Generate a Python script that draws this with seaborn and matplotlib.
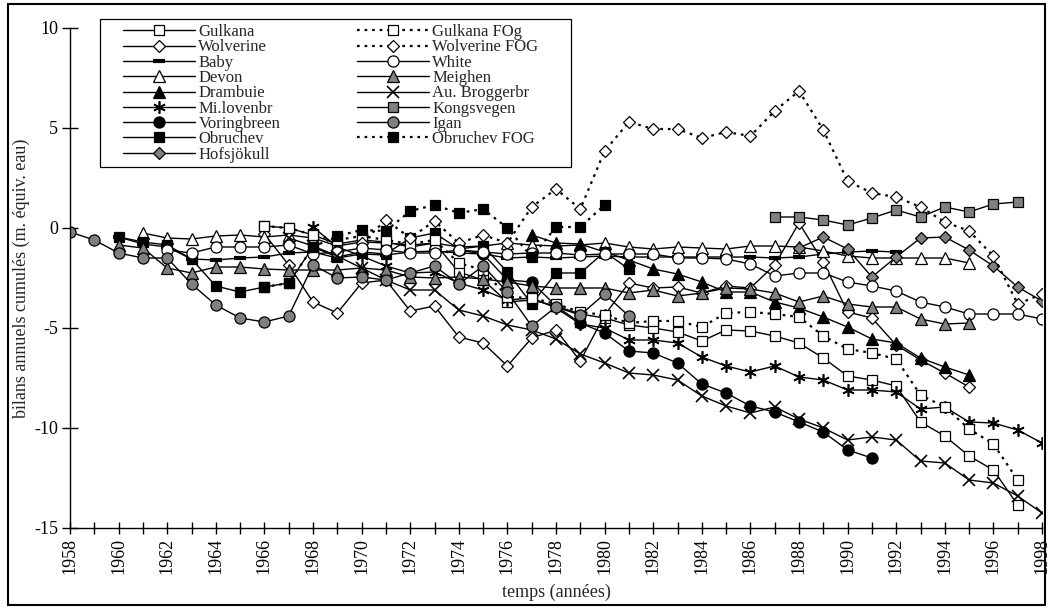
import matplotlib
matplotlib.use("Agg")
import matplotlib.pyplot as plt
import seaborn as sns
import pandas as pd
from matplotlib.patches import Rectangle

# ---------------- data (cumulative annual balances, m w.e.) ----------------
gulkana_years = list(range(1966, 1998))
gulkana = [0.1, 0.0, -0.35, -0.8, -0.6, -0.7, -0.95, -0.75, -2.2, -2.6, -3.7, -3.6, -3.9, -4.3,
           -4.5, -4.85, -5.0, -5.2, -5.65, -5.1, -5.15, -5.4, -5.75, -6.5, -7.4, -7.6, -7.9,
           -9.7, -10.4, -11.4, -12.1, -13.85]

gulkana_fog_years = list(range(1966, 1998))
gulkana_fog = [0.1, 0.0, -0.35, -0.6, -0.4, -0.6, -0.8, -0.6, -1.75, -2.1, -3.45, -3.5, -3.8, -4.2,
               -4.35, -4.75, -4.65, -4.65, -4.95, -4.25, -4.2, -4.3, -4.45, -5.4, -6.05, -6.25,
               -6.55, -8.35, -8.95, -10.05, -10.8, -12.6]

wolverine_years = list(range(1966, 1996))
wolverine = [-0.3, -1.85, -3.7, -4.25, -2.75, -2.6, -4.15, -3.9, -5.45, -5.75, -6.9, -5.5, -5.1,
             -6.65, -4.35, -2.75, -3.0, -2.95, -3.25, -2.9, -3.0, -1.85, 0.25, -1.7, -4.2, -4.5,
             -5.85, -6.6, -7.25, -7.95]

wolverine_fog_years = list(range(1970, 1999))
wolverine_fog = [-0.75, 0.4, -0.5, 0.35, -0.75, -0.35, -0.75, 1.05, 1.95, 0.95, 3.85, 5.3, 4.95,
                 4.95, 4.5, 4.8, 4.6, 5.85, 6.85, 4.9, 2.35, 1.75, 1.55, 1.05, 0.3, -0.15, -1.4,
                 -3.8, -3.3]

baby_years = list(range(1960, 1993))
baby = [-0.45, -0.8, -0.95, -1.55, -1.6, -1.5, -1.45, -1.25, -1.2, -1.5, -1.3, -1.35, -1.2, -1.15,
        -1.25, -1.3, -1.5, -1.45, -1.5, -1.45, -1.4, -1.45, -1.45, -1.45, -1.45, -1.45, -1.45,
        -1.5, -1.45, -1.3, -1.2, -1.15, -1.2]

white_years = list(range(1962, 1999))
white = [-1.1, -1.25, -0.95, -0.95, -0.95, -0.85, -1.3, -1.2, -1.0, -1.1, -1.25, -1.25, -1.1, -1.2,
         -1.3, -1.25, -1.25, -1.35, -1.3, -1.3, -1.3, -1.5, -1.5, -1.55, -1.8, -2.4, -2.25, -2.25,
         -2.7, -2.9, -3.15, -3.7, -3.95, -4.3, -4.3, -4.3, -4.55]

devon_years = list(range(1961, 1996))
devon = [-0.25, -0.5, -0.55, -0.4, -0.35, -0.45, -0.35, -0.5, -0.9, -0.7, -0.75, -0.85, -0.75,
         -0.95, -0.9, -0.75, -0.85, -0.9, -0.85, -0.75, -0.95, -1.05, -0.95, -1.0, -1.05, -0.9,
         -0.9, -0.95, -1.15, -1.4, -1.5, -1.5, -1.5, -1.5, -1.75]

meighen_years = list(range(1960, 1996))
meighen = [-0.85, -1.0, -2.0, -2.25, -1.95, -1.95, -2.05, -2.1, -2.1, -2.1, -2.0, -2.1, -2.45, -2.5,
           -2.45, -2.55, -2.7, -2.9, -3.0, -3.0, -3.0, -3.25, -3.1, -3.4, -3.25, -3.0, -3.05,
           -3.25, -3.7, -3.4, -3.8, -3.95, -3.95, -4.55, -4.8, -4.75]

drambuie_years = list(range(1977, 1996))
drambuie = [-0.35, -0.75, -0.8, -1.2, -1.6, -2.05, -2.3, -2.7, -3.2, -3.2, -3.7, -4.0, -4.45, -4.95,
            -5.55, -5.75, -6.5, -6.95, -7.35]

broggerbr_years = list(range(1967, 1999))
broggerbr = [-0.5, -0.9, -1.4, -2.0, -2.6, -3.1, -3.1, -4.1, -4.4, -4.85, -5.1, -5.55, -6.3, -6.75,
             -7.25, -7.35, -7.6, -8.4, -8.9, -9.25, -8.95, -9.55, -10.0, -10.6, -10.45, -10.6,
             -11.65, -11.75, -12.6, -12.75, -13.4, -14.25]

lovenbr_years = list(range(1968, 1999))
lovenbr = [0.05, -0.95, -1.4, -1.9, -2.25, -2.2, -2.75, -3.1, -3.6, -3.5, -4.0, -4.8, -5.0, -5.6,
           -5.6, -5.75, -6.45, -6.9, -7.2, -6.9, -7.45, -7.6, -8.1, -8.1, -8.2, -9.05, -8.95, -9.7,
           -9.75, -10.1, -10.75]

kongsvegen_years = list(range(1987, 1998))
kongsvegen = [0.55, 0.55, 0.4, 0.15, 0.5, 0.9, 0.55, 1.05, 0.8, 1.2, 1.3]

voringbreen_years = list(range(1974, 1992))
voringbreen = [-1.1, -1.3, -2.6, -2.7, -3.9, -4.75, -5.25, -6.15, -6.25, -6.75, -7.8, -8.25, -8.9,
               -9.2, -9.7, -10.2, -11.1, -11.5]

igan_years = list(range(1958, 1982))
igan = [-0.2, -0.6, -1.25, -1.5, -1.5, -2.8, -3.85, -4.5, -4.7, -4.4, -1.85, -2.5, -2.45, -2.6,
        -2.25, -1.9, -2.8, -1.9, -3.2, -4.9, -3.95, -4.35, -3.3, -4.4]

obruchev_years = list(range(1960, 1982))
obruchev = [-0.45, -0.7, -0.85, -1.55, -2.9, -3.2, -2.95, -2.75, -0.95, -1.45, -1.2, -1.3, -0.5,
            -0.25, -1.05, -0.9, -2.2, -3.8, -2.25, -2.25, -1.2, -2.05]

obruchev_fog_years = list(range(1966, 1981))
obruchev_fog = [-2.95, -2.75, -0.95, -0.4, -0.1, -0.15, 0.85, 1.15, 0.75, 0.95, 0.0, -1.45, 0.05,
                0.05, 1.15]

hofsjokull_years = list(range(1988, 1999))
hofsjokull = [-1.0, -0.45, -1.05, -2.45, -1.45, -0.5, -0.45, -1.1, -1.9, -2.95, -3.65]

year_ticks = list(range(1958, 1999))
y_ticks = [10, 5, 0, -5, -10, -15]

# ---------------- style ----------------
sns.set_style("ticks")
plt.rcParams["font.family"] = ["Liberation Serif", "DejaVu Serif"]
plt.rcParams["axes.unicode_minus"] = False
plt.rcParams["axes.linewidth"] = 1.0

GREY = "#808080"
DOT = (0, (1.2, 2.2))
ASTER = (6, 2, 0)

# label, years, values, marker, facecolor, linestyle, markersize
series = [
    ("Gulkana", gulkana_years, gulkana, "s", "white", "-", 7.5),
    ("Wolverine", wolverine_years, wolverine, "D", "white", "-", 6.5),
    ("Baby", baby_years, baby, "_", "black", "-", 8),
    ("Devon", devon_years, devon, "^", "white", "-", 8.5),
    ("Drambuie", drambuie_years, drambuie, "^", "black", "-", 8.5),
    ("Mi.lovenbr", lovenbr_years, lovenbr, ASTER, "black", "-", 9),
    ("Voringbreen", voringbreen_years, voringbreen, "o", "black", "-", 8),
    ("Obruchev", obruchev_years, obruchev, "s", "black", "-", 7.5),
    ("Hofsjökull", hofsjokull_years, hofsjokull, "D", GREY, "-", 6.5),
    ("Gulkana FOg", gulkana_fog_years, gulkana_fog, "s", "white", DOT, 7.5),
    ("Wolverine FOG", wolverine_fog_years, wolverine_fog, "D", "white", DOT, 6.5),
    ("White", white_years, white, "o", "white", "-", 8),
    ("Meighen", meighen_years, meighen, "^", GREY, "-", 8.5),
    ("Au. Broggerbr", broggerbr_years, broggerbr, "x", "black", "-", 8.5),
    ("Kongsvegen", kongsvegen_years, kongsvegen, "s", GREY, "-", 7.5),
    ("Igan", igan_years, igan, "o", GREY, "-", 8),
    ("Obruchev FOG", obruchev_fog_years, obruchev_fog, "s", "black", DOT, 7.5),
]

fig = plt.figure(figsize=(10.49, 6.08), dpi=100)
ax = fig.add_axes([70 / 1049, 80 / 608, 972 / 1049, 500 / 608])

for label, yrs, vals, mk, fc, ls, ms in series:
    df = pd.DataFrame({"year": yrs, "value": vals})
    lw = 1.6 if ls is DOT else 1.0
    if mk == "_":
        mew = 3.0
    elif mk in ("x", ASTER):
        mew = 1.2
    else:
        mew = 0.9
    sns.lineplot(data=df, x="year", y="value", ax=ax, estimator=None, sort=False,
                 color="black", linewidth=lw, linestyle=ls, marker=mk,
                 markersize=ms, markerfacecolor=fc, markeredgecolor="black",
                 markeredgewidth=mew, label=label)

ax.set_xlim(1958, 1998)
ax.set_ylim(-15, 10)
ax.set_xticks(year_ticks)
ax.set_xticklabels([str(y) if y % 2 == 0 else "" for y in year_ticks], rotation=90)
ax.set_yticks(y_ticks)
ax.set_yticklabels([str(v) for v in y_ticks])
ax.tick_params(axis="both", direction="inout", width=1.0, colors="black", labelsize=13)
ax.tick_params(axis="y", length=11, pad=3)
ax.tick_params(axis="x", length=8, pad=3)
sns.despine(ax=ax, top=True, right=True)
ax.spines["left"].set_color("black")
ax.spines["bottom"].set_color("black")

ax.set_xlabel("temps (années)", fontsize=13)
ax.set_ylabel("bilans annuels cumulés (m. équiv. eau)", fontsize=13)
ax.xaxis.set_label_coords(0.5, -0.112)
ax.yaxis.set_label_coords(-0.041, 0.5)

# legend box drawn separately for exact padding
box = Rectangle((100 / 1049, (608 - 167) / 608), 471 / 1049, 148 / 608,
                transform=fig.transFigure, facecolor="white", edgecolor="black",
                linewidth=0.9, zorder=4, clip_on=False)
ax.add_artist(box)

handles, labels = ax.get_legend_handles_labels()
leg = ax.legend(handles, labels, ncol=2, loc="upper left",
                bbox_to_anchor=(123 / 1049, (608 - 24) / 608), bbox_transform=fig.transFigure,
                borderaxespad=0, borderpad=0,
                fontsize=12, handlelength=4.32, handletextpad=0.2, columnspacing=4.6,
                labelspacing=-0.04, frameon=False)
leg.set_zorder(5)

fig.patches.append(Rectangle((8 / 1049, 3 / 608), 1037 / 1049, 601 / 608,
                             transform=fig.transFigure, fill=False,
                             edgecolor="black", linewidth=1.5))

fig.savefig("out.png", dpi=100, facecolor="white")
